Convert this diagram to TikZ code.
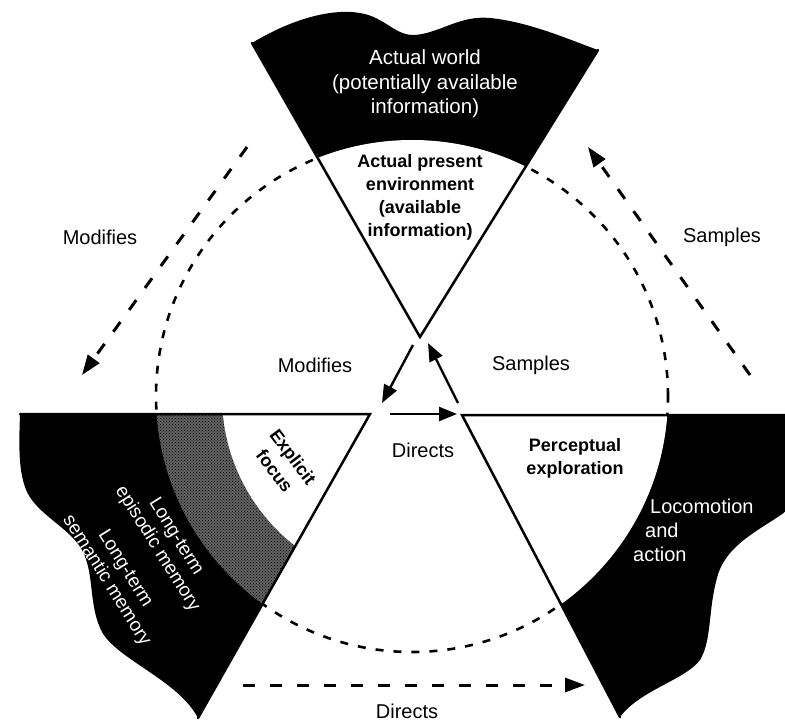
\documentclass[tikz,border=0pt]{standalone}
\usepackage{fontspec}
\setmainfont{Liberation Sans}
\usetikzlibrary{arrows.meta,patterns}

\begin{document}
\begin{tikzpicture}[x=1pt,y=-1pt,
  edge/.style={line width=2.5pt, line cap=round},
  ring/.style={line width=2.6pt, dash pattern=on 8pt off 10pt},
  flow/.style={line width=3pt, dash pattern=on 12pt off 15pt, -{Triangle[length=20pt,width=14pt]}},
  link/.style={line width=2.4pt, -{Triangle[length=18pt,width=14pt]}},
  lbl/.style={font=\fontsize{20}{24}\selectfont, inner sep=0pt},
  hdr/.style={font=\fontsize{18}{23}\selectfont\bfseries, inner sep=0pt, align=center},
  inv/.style={text=white, font=\fontsize{20}{24}\selectfont, inner sep=0pt, align=center},
]
\useasboundingbox (0,0) rectangle (785,723);

% centre of the cycle and the three wedge apexes
\coordinate (C) at (412,396);
\coordinate (topApex) at (420,337);
\coordinate (leftApex) at (370,414);
\coordinate (rightApex) at (462,415);
\coordinate (topL) at (252,43);
\coordinate (topR) at (598,50);
\coordinate (leftEnd) at (20,414);
\coordinate (leftTip) at (198,718);
\coordinate (rightEnd) at (785,415);
\coordinate (rightTip) at (620,717);

% perceptual cycle (dashed)
\draw[ring] (C) circle[radius=256pt];

% world wedge
\begin{scope}
  \clip (topApex) -- (topL) .. controls (290,20) and (330,8) .. (360,13)
        .. controls (385,17) and (395,36) .. (415,35)
        .. controls (440,33) and (460,15) .. (490,18)
        .. controls (530,22) and (570,40) .. (topR) -- cycle;
  \fill[black] (0,0) rectangle (785,723);
  \fill[white] (C) circle[radius=256pt];
\end{scope}

% memory wedge
\begin{scope}
  \clip (leftApex) -- (leftEnd) .. controls (19,445) and (18,472) .. (27,492)
        .. controls (38,515) and (70,528) .. (82,550)
        .. controls (95,574) and (88,605) .. (102,632)
        .. controls (118,660) and (178,680) .. (leftTip) -- cycle;
  \fill[black] (0,0) rectangle (785,723);
  \fill[black!62] (C) circle[radius=256pt];
  \fill[pattern=crosshatch dots, pattern color=black] (C) circle[radius=256pt];
  \fill[white] (C) circle[radius=190pt];
\end{scope}

% action wedge
\begin{scope}
  \clip (rightApex) -- (rightEnd) -- (785,512)
        .. controls (760,530) and (725,545) .. (717,578)
        .. controls (708,610) and (712,640) .. (700,660)
        .. controls (685,680) and (640,690) .. (rightTip) -- cycle;
  \fill[black] (0,0) rectangle (785,723);
  \fill[white] (C) circle[radius=256pt];
\end{scope}

% wedge edges
\draw[edge] (topL) -- (topApex) -- (topR);
\draw[edge] (leftEnd) -- (leftApex) -- (leftTip);
\draw[edge] (rightEnd) -- (rightApex) -- (rightTip);

% inner arrows
\coordinate (modA) at (413,345);
\coordinate (modB) at (382,403);
\coordinate (samA) at (458,403);
\coordinate (samB) at (428,343);
\coordinate (dirA) at (390,414);
\coordinate (dirB) at (457,414);
\draw[link] (modA) -- (modB);
\draw[link] (samA) -- (samB);
\draw[link] (dirA) -- (dirB);

% outer arrows
\coordinate (omodA) at (247,147);
\coordinate (omodB) at (82,375);
\coordinate (osamA) at (750,375);
\coordinate (osamB) at (588,147);
\coordinate (odirA) at (243,685);
\coordinate (odirB) at (585,685);
\draw[flow] (omodA) -- (omodB);
\draw[flow] (osamA) -- (osamB);
\draw[flow] (odirA) -- (odirB);

% labels
\node[lbl] (tModOut) at (100,237) {Modifies};
\node[lbl] (tSamOut) at (722,237) {Samples};
\node[lbl] (tDirOut) at (407,711) {Directs};
\node[lbl] (tModIn) at (315,365) {Modifies};
\node[lbl] (tSamIn) at (531,365) {Samples};
\node[lbl] (tDirIn) at (423,450) {Directs};

\node[inv, font=\fontsize{20.5}{24.5}\selectfont] (world) at (425,84)
  {Actual world\\(potentially available\\information)};
\node[hdr] (env) at (420,197)
  {Actual present\\environment\\(available\\information)};
\node[hdr] (percept) at (575,458) {Perceptual\\exploration};
\node[hdr, rotate=-53] (focus) at (284,464) {Explicit\\focus};
\node[inv, align=left, anchor=west] (loco) at (633,530)
  {\hspace*{17pt}Locomotion\\\hspace*{12pt}and\\action};
\node[inv, rotate=-58, font=\fontsize{19}{22}\selectfont] (memory) at (141,559)
  {Long-term\\episodic memory\\[16pt]Long-term\\semantic memory};
\end{tikzpicture}
\end{document}
